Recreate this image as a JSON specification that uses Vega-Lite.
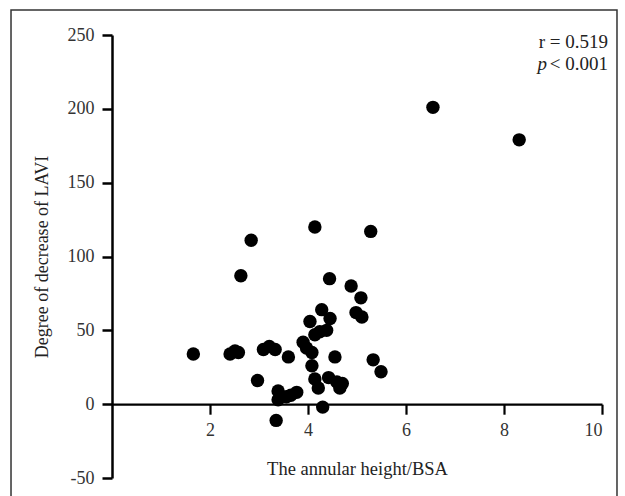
{
  "$schema": "https://vega.github.io/schema/vega-lite/v6.json",
  "width": 490,
  "height": 443,
  "autosize": "none",
  "padding": {"left": 112, "top": 35, "right": 23, "bottom": 18},
  "background": "white",
  "config": {"view": {"stroke": null}, "font": "Liberation Serif"},
  "datasets": {
    "pts": [
      {"x": 6.55, "y": 201}, {"x": 8.31, "y": 179}, {"x": 4.14, "y": 120}, {"x": 5.28, "y": 117},
      {"x": 2.84, "y": 111}, {"x": 2.63, "y": 87}, {"x": 4.44, "y": 85}, {"x": 4.88, "y": 80},
      {"x": 5.08, "y": 72}, {"x": 4.98, "y": 62}, {"x": 5.10, "y": 59}, {"x": 4.28, "y": 64},
      {"x": 4.04, "y": 56}, {"x": 4.45, "y": 58}, {"x": 4.24, "y": 49}, {"x": 4.38, "y": 50},
      {"x": 4.14, "y": 47}, {"x": 3.90, "y": 42}, {"x": 1.66, "y": 34}, {"x": 2.41, "y": 34},
      {"x": 2.51, "y": 36}, {"x": 2.58, "y": 35}, {"x": 3.09, "y": 37}, {"x": 3.21, "y": 39},
      {"x": 3.33, "y": 37}, {"x": 3.60, "y": 32}, {"x": 3.97, "y": 38}, {"x": 4.08, "y": 35},
      {"x": 4.55, "y": 32}, {"x": 5.33, "y": 30}, {"x": 5.49, "y": 22}, {"x": 2.97, "y": 16},
      {"x": 4.08, "y": 26}, {"x": 4.14, "y": 17}, {"x": 4.21, "y": 11}, {"x": 4.42, "y": 18},
      {"x": 4.59, "y": 15}, {"x": 4.65, "y": 11}, {"x": 4.70, "y": 14}, {"x": 3.39, "y": 9},
      {"x": 3.39, "y": 3}, {"x": 3.56, "y": 5}, {"x": 3.77, "y": 8}, {"x": 3.65, "y": 6},
      {"x": 4.30, "y": -2}, {"x": 3.35, "y": -11}
    ],
    "one": [{}]
  },
  "layer": [
    {
      "data": {"name": "one"},
      "mark": {"type": "rect", "filled": false, "stroke": "#333333", "strokeWidth": 1.5},
      "encoding": {
        "x": {"datum": -2.061, "type": "quantitative", "scale": {"domain": [0, 10], "nice": false, "zero": false}},
        "x2": {"datum": 10.306},
        "y": {"datum": 266.9, "type": "quantitative", "scale": {"domain": [-50, 250], "nice": false, "zero": false}},
        "y2": {"datum": -80}
      }
    },
    {
      "data": {"name": "pts"},
      "mark": {"type": "point", "shape": "circle", "filled": true, "color": "black", "opacity": 1, "size": 180},
      "encoding": {
        "x": {
          "field": "x", "type": "quantitative",
          "scale": {"domain": [0, 10], "nice": false, "zero": false},
          "axis": {
            "orient": "bottom", "offset": -73.8, "values": [2, 4, 6, 8, 10],
            "title": "The annular height/BSA", "grid": false,
            "domainColor": "black", "domainWidth": 2.2, "tickColor": "black", "tickWidth": 2.2, "tickSize": 10,
            "labelFontSize": 18, "labelColor": "#333333", "labelPadding": 7, "labelFont": "Liberation Serif",
            "titleFontSize": 18.5, "titleFontWeight": "normal", "titleColor": "#222222", "titlePadding": 20, "titleFont": "Liberation Serif"
          }
        },
        "y": {
          "field": "y", "type": "quantitative",
          "scale": {"domain": [-50, 250], "nice": false, "zero": false},
          "axis": {
            "values": [-50, 0, 50, 100, 150, 200, 250],
            "labelExpr": "datum.value + ''",
            "title": "Degree of decrease of LAVI", "grid": false,
            "domainColor": "black", "domainWidth": 2.5, "tickColor": "black", "tickWidth": 2.5, "tickSize": 10,
            "labelFontSize": 18, "labelColor": "#333333", "labelPadding": 8, "labelFont": "Liberation Serif",
            "titleFontSize": 18, "titleFontWeight": "normal", "titleColor": "#222222", "titlePadding": 16, "titleFont": "Liberation Serif"
          }
        }
      }
    },
    {
      "data": {"name": "one"},
      "mark": {"type": "text", "align": "right", "baseline": "middle", "fontSize": 19, "font": "Liberation Serif", "color": "#222222", "dx": 6},
      "encoding": {
        "x": {"datum": 10, "type": "quantitative", "scale": {"domain": [0, 10], "nice": false, "zero": false}},
        "y": {"datum": 245, "type": "quantitative", "scale": {"domain": [-50, 250], "nice": false, "zero": false}},
        "text": {"value": "r = 0.519"}
      }
    },
    {
      "data": {"name": "one"},
      "mark": {"type": "text", "align": "right", "baseline": "middle", "fontSize": 19, "font": "Liberation Serif", "color": "#222222", "dx": 6},
      "encoding": {
        "x": {"datum": 10, "type": "quantitative", "scale": {"domain": [0, 10], "nice": false, "zero": false}},
        "y": {"datum": 230.5, "type": "quantitative", "scale": {"domain": [-50, 250], "nice": false, "zero": false}},
        "text": {"value": "< 0.001"}
      }
    },
    {
      "data": {"name": "one"},
      "mark": {"type": "text", "align": "right", "baseline": "middle", "fontSize": 19, "font": "Liberation Serif", "fontStyle": "italic", "color": "#222222", "dx": -55},
      "encoding": {
        "x": {"datum": 10, "type": "quantitative", "scale": {"domain": [0, 10], "nice": false, "zero": false}},
        "y": {"datum": 230.5, "type": "quantitative", "scale": {"domain": [-50, 250], "nice": false, "zero": false}},
        "text": {"value": "p"}
      }
    }
  ]
}
